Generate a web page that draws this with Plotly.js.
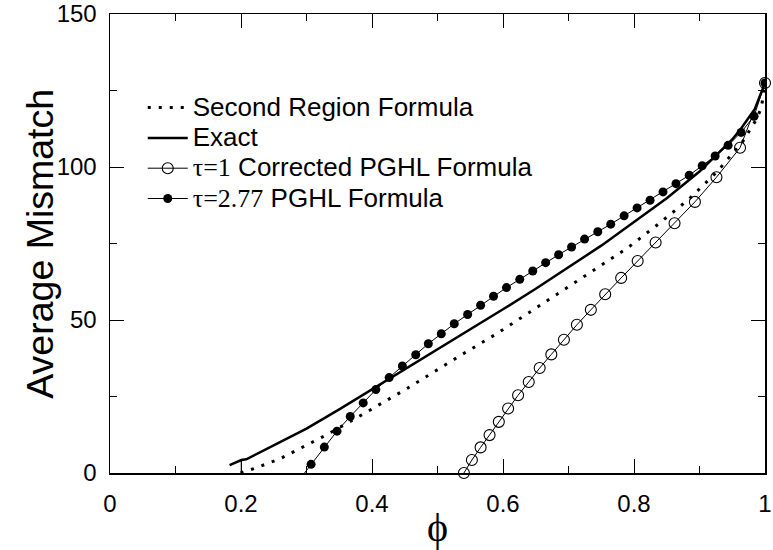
<!DOCTYPE html>
<html>
<head>
<meta charset="utf-8">
<script src="https://cdn.plot.ly/plotly-3.0.1.min.js"></script>
<style>html,body{margin:0;padding:0;background:#fff;}#chart{width:773px;height:550px;}</style>
</head>
<body>
<div id="chart"></div>
<script>
// Second Region Formula (dotted)
const secondX = [0.1994,0.2207,0.2588,0.2942,0.3298,0.3816,0.416,0.4516,0.5377,0.5886,0.6382,0.689,0.7408,0.79,0.8371,0.8839,0.9269,0.9665,0.9868,0.9944,1.0];
const secondY = [0,1.53,4.56,8.47,12.38,18.66,23.03,27.36,38.76,45.28,52.21,59.28,66.68,73.52,81.34,89.48,98.47,108.47,115.54,119.32,127.36];

// Exact (solid)
const exactX = [0.1826,0.2005,0.2081,0.25,0.3,0.35,0.4,0.45,0.5,0.55,0.6,0.65,0.7,0.75,0.8,0.85,0.9,0.95,0.9635,0.9843,1.0];
const exactY = [2.6,4.23,4.46,9.0,14.5,20.8,27.3,33.8,40.3,46.9,53.5,60.2,67.2,74.3,82.0,89.8,98.5,109.0,112.6,118.9,127.46];
// thin vertical step of the exact curve at its start
const exactStepX = [0.2005,0.2005];
const exactStepY = [0,4.23];

// tau=1 Corrected PGHL Formula (open circles)
const tau1X = [0.5403,0.5525,0.5658,0.5795,0.5936,0.6078,0.6230,0.6393,0.6560,0.6738,0.6930,0.7128,0.7341,0.7560,0.7804,0.8056,0.8330,0.8619,0.8930,0.9259,0.9619,1.0];
const tau1Y = [0,4.23,8.37,12.38,16.71,21.07,25.41,29.74,34.30,38.76,43.55,48.44,53.32,58.40,63.75,69.28,75.34,81.60,88.60,96.64,106.29,127.46];

// tau=2.77 PGHL Formula (filled circles)
const tau277X = [0.2868,0.3070,0.3272,0.3466,0.3668,0.3866,0.4059,0.4262,0.4464,0.4668,0.4860,0.5058,0.5256,0.5460,0.5658,0.5855,0.6053,0.6256,0.6454,0.6651,0.6849,0.7047,0.7245,0.7447,0.7645,0.7849,0.8047,0.8245,0.8443,0.8641,0.8843,0.9041,0.9239,0.9437,0.9635,0.9833,1.0];
const tau277Y = [-2.8,2.83,8.47,13.68,18.47,22.9,27.26,31.17,34.95,38.66,42.25,45.5,48.76,51.79,54.82,57.75,60.59,63.29,66.03,68.73,71.34,73.84,76.45,78.83,81.33,84.04,86.64,89.15,91.86,94.56,97.3,100.42,103.58,107.07,111.3,116.6,127.46];

const serif = "font-family:Liberation Serif,Times New Roman,serif";
const big = "font-size:26px";
const legendNames = [
  "<span style='" + big + "'>Second Region Formula</span>",
  "<span style='" + big + "'>Exact</span>",
  "<span style='" + big + "'><span style='" + serif + "'>τ=1</span> Corrected PGHL Formula</span>",
  "<span style='" + big + "'><span style='" + serif + "'>τ=2.77</span> PGHL Formula</span>"
];
const xTickVals = [0,0.2,0.4,0.6,0.8,1];
const xTickText = ["0","0.2","0.4","0.6","0.8","1"];
const yTickVals = [0,50,100,150];
const yTickText = ["0","50","100","150"];
const yTitle = "Average Mismatch";
const xTitle = "ϕ";

const traces = [
  {x: secondX, y: secondY, name: legendNames[0], mode: 'lines', type: 'scatter',
   line: {color: '#000', width: 3, dash: '3px,8px'}},
  {x: exactX, y: exactY, name: legendNames[1], mode: 'lines', type: 'scatter',
   line: {color: '#000', width: 2.5}},
  {x: exactStepX, y: exactStepY, mode: 'lines', type: 'scatter', showlegend: false,
   line: {color: '#000', width: 1.2}},
  {x: tau1X, y: tau1Y, name: legendNames[2], mode: 'lines+markers', type: 'scatter',
   cliponaxis: false,
   line: {color: '#000', width: 1},
   marker: {symbol: 'circle-open', size: 11, color: '#000', line: {width: 1.1, color: '#000'}}},
  {x: tau277X, y: tau277Y, name: legendNames[3], mode: 'lines+markers', type: 'scatter',
   line: {color: '#000', width: 1},
   marker: {symbol: 'circle', size: 9, color: '#000'}}
];

const tickFont = {family: 'Liberation Sans, Arial, sans-serif', size: 24, color: '#000'};
const axisCommon = {
  showgrid: false, zeroline: false, showline: true, linecolor: '#000', linewidth: 1.5,
  mirror: 'allticks', ticks: 'inside', tickcolor: '#000', tickwidth: 1,
  ticklabeloverflow: 'allow', tickfont: tickFont
};

const layout = {
  width: 773, height: 550,
  margin: {l: 110, r: 8, t: 14, b: 77},
  paper_bgcolor: '#fff', plot_bgcolor: '#fff',
  showlegend: true,
  legend: {x: 0.05, y: 0.84, xanchor: 'left', yanchor: 'top', bgcolor: 'rgba(0,0,0,0)',
           font: {family: 'Liberation Sans, Arial, sans-serif', size: 21, color: '#000'},
           itemwidth: 40},
  xaxis: Object.assign({}, axisCommon, {
    range: [0, 1], tickmode: 'array', tickvals: xTickVals, ticktext: xTickText, ticklen: 14,
    ticklabelstandoff: 9,
    minor: {dtick: 0.1, tick0: 0, ticks: 'inside', ticklen: 7, tickcolor: '#000', tickwidth: 1},
    title: {text: xTitle, font: {family: 'Liberation Serif, Times New Roman, serif', size: 40, color: '#000'}, standoff: 4}
  }),
  yaxis: Object.assign({}, axisCommon, {
    range: [0, 150], tickmode: 'array', tickvals: yTickVals, ticktext: yTickText, ticklen: 14,
    ticklabelstandoff: 7,
    minor: {dtick: 25, tick0: 0, ticks: 'inside', ticklen: 7, tickcolor: '#000', tickwidth: 1}
  }),
  annotations: [{
    text: yTitle, xref: 'paper', yref: 'paper', x: -0.108, y: 0.50,
    xanchor: 'center', yanchor: 'middle', textangle: -90, showarrow: false,
    font: {family: 'Liberation Sans, Arial, sans-serif', size: 37.5, color: '#000'}
  }]
};

Plotly.newPlot('chart', traces, layout, {displayModeBar: false, staticPlot: true});
</script>
</body>
</html>
